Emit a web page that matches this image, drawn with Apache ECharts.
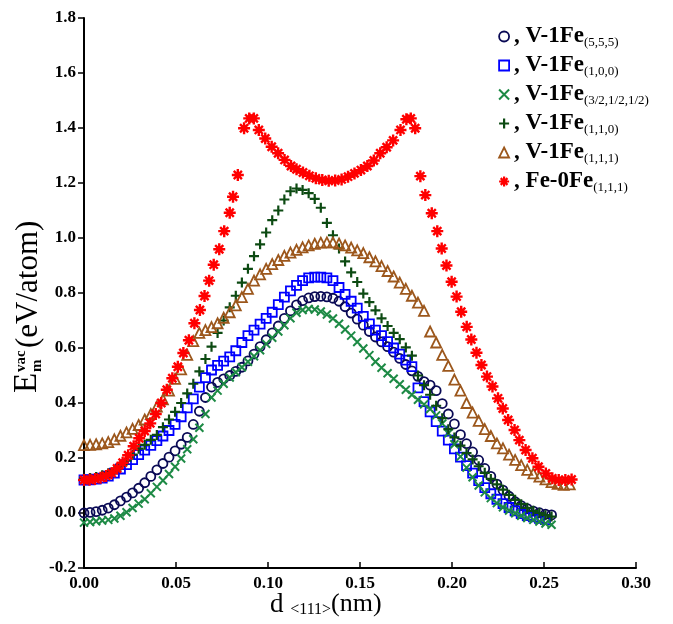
<!DOCTYPE html>
<html>
<head>
<meta charset="utf-8">
<script src="https://cdn.jsdelivr.net/npm/echarts/dist/echarts.min.js"></script>
<style>
html,body{margin:0;padding:0;background:#fff;}
#chart{width:673px;height:624px;}
</style>
</head>
<body>
<div id="chart"></div>
<script>
// ---- data ----
const seriesNames = ['V-1Fe(5,5,5)', 'V-1Fe(1,0,0)', 'V-1Fe(3/2,1/2,1/2)', 'V-1Fe(1,1,0)', 'V-1Fe(1,1,1)', 'Fe-0Fe(1,1,1)'];
const xTicks = [0.00, 0.05, 0.10, 0.15, 0.20, 0.25, 0.30];
const yTicks = [-0.2, 0.0, 0.2, 0.4, 0.6, 0.8, 1.0, 1.2, 1.4, 1.6, 1.8];

// shared reaction-coordinate grid d<111> (nm) for the V-1Fe paths
const dGrid = [0.0000,0.0033,0.0066,0.0099,0.0132,0.0165,0.0198,0.0231,0.0264,0.0297,
0.0330,0.0363,0.0396,0.0429,0.0462,0.0495,0.0528,0.0561,0.0594,0.0627,
0.0660,0.0693,0.0726,0.0759,0.0792,0.0825,0.0858,0.0891,0.0924,0.0957,
0.0990,0.1023,0.1056,0.1089,0.1122,0.1155,0.1188,0.1221,0.1254,0.1287,
0.1320,0.1353,0.1386,0.1419,0.1452,0.1485,0.1518,0.1551,0.1584,0.1617,
0.1650,0.1683,0.1716,0.1749,0.1782,0.1815,0.1848,0.1881,0.1914,0.1947,
0.1980,0.2013,0.2046,0.2079,0.2112,0.2145,0.2178,0.2211,0.2244,0.2277,
0.2310,0.2343,0.2376,0.2409,0.2442,0.2475,0.2508,0.2541,0.2574,0.2607,0.2640];

const eV555 = [0.000,0.002,0.005,0.010,0.018,0.030,0.044,0.058,0.073,0.090,
0.110,0.133,0.157,0.180,0.203,0.226,0.250,0.275,0.322,0.370,
0.420,0.458,0.475,0.488,0.500,0.515,0.530,0.553,0.578,0.605,
0.630,0.655,0.680,0.708,0.735,0.757,0.772,0.782,0.787,0.788,
0.786,0.781,0.770,0.750,0.727,0.705,0.683,0.660,0.640,0.622,
0.605,0.585,0.562,0.540,0.517,0.497,0.478,0.465,0.445,0.398,
0.360,0.324,0.285,0.252,0.222,0.192,0.162,0.133,0.105,0.083,
0.061,0.041,0.027,0.016,0.007,0.001,-0.004,-0.007];

const eV100 = [0.120,0.121,0.123,0.127,0.134,0.145,0.160,0.176,0.194,0.212,
0.229,0.246,0.263,0.280,0.300,0.322,0.350,0.382,0.415,0.458,
0.492,0.520,0.537,0.552,0.568,0.590,0.620,0.645,0.665,0.687,
0.708,0.730,0.758,0.785,0.808,0.828,0.845,0.855,0.858,0.858,
0.855,0.845,0.820,0.795,0.770,0.745,0.715,0.688,0.665,0.645,
0.623,0.600,0.578,0.556,0.532,0.455,0.405,0.368,0.332,0.298,
0.265,0.233,0.203,0.172,0.145,0.118,0.092,0.070,0.050,0.034,
0.020,0.008,-0.002,-0.009,-0.014,-0.019,-0.024];

const eV3212 = [-0.035,-0.033,-0.030,-0.027,-0.025,-0.020,-0.010,0.003,0.018,0.034,
0.050,0.072,0.095,0.118,0.142,0.168,0.198,0.232,0.268,0.310,
0.360,0.420,0.445,0.470,0.493,0.512,0.530,0.550,0.570,0.592,
0.615,0.637,0.660,0.683,0.708,0.728,0.738,0.742,0.740,0.733,
0.722,0.707,0.688,0.667,0.645,0.622,0.598,0.574,0.550,0.528,
0.508,0.488,0.468,0.448,0.430,0.412,0.395,0.378,0.355,0.325,
0.290,0.250,0.205,0.165,0.130,0.100,0.075,0.054,0.036,0.021,
0.009,-0.001,-0.010,-0.018,-0.025,-0.031,-0.038,-0.043];

const eV110 = [0.125,0.127,0.131,0.137,0.145,0.156,0.172,0.190,0.212,0.234,
0.248,0.266,0.284,0.312,0.340,0.368,0.400,0.435,0.470,0.515,
0.560,0.605,0.655,0.700,0.748,0.790,0.838,0.888,0.934,0.977,
1.020,1.065,1.100,1.140,1.170,1.180,1.175,1.163,1.142,1.110,
1.055,1.010,0.962,0.915,0.875,0.840,0.798,0.767,0.737,0.708,
0.680,0.655,0.632,0.602,0.572,0.500,0.465,0.430,0.390,0.345,
0.305,0.275,0.245,0.218,0.195,0.170,0.146,0.124,0.104,0.085,
0.066,0.048,0.032,0.019,0.008,0.000,-0.008,-0.013];

const eV111 = [0.247,0.248,0.250,0.253,0.258,0.268,0.281,0.293,0.306,0.320,
0.340,0.360,0.387,0.413,0.445,0.488,0.522,0.575,0.625,0.655,
0.665,0.676,0.690,0.710,0.730,0.755,0.785,0.815,0.845,0.868,
0.888,0.905,0.920,0.935,0.947,0.957,0.966,0.973,0.979,0.983,
0.984,0.984,0.980,0.973,0.965,0.955,0.945,0.930,0.915,0.898,
0.880,0.860,0.838,0.815,0.790,0.765,0.735,0.660,0.620,0.575,
0.535,0.485,0.445,0.400,0.365,0.335,0.305,0.280,0.253,0.235,
0.212,0.193,0.174,0.157,0.144,0.132,0.122,0.112,0.106,0.102,0.104];

// Fe-0Fe path has its own images along d<111>
const dFe = [0.000,0.003,0.006,0.009,0.012,0.015,0.018,0.021,0.024,0.027,
0.030,0.033,0.036,0.039,0.042,0.045,0.048,0.051,0.054,0.057,
0.060,0.063,0.0655,0.068,0.0705,0.0735,0.0762,0.0792,0.081,0.0836,
0.087,0.0898,0.0923,0.095,0.0985,0.102,0.1055,0.109,0.1125,0.1155,
0.119,0.1225,0.126,0.1295,0.133,0.1365,0.140,0.1435,0.147,0.1505,
0.154,0.1575,0.161,0.1645,0.168,0.172,0.1752,0.1776,0.180,0.1828,
0.1855,0.189,0.192,0.1944,0.197,0.1998,0.2025,0.205,0.208,0.2105,
0.2133,0.216,0.219,0.222,0.225,0.2276,0.2305,0.234,0.2366,0.240,
0.2437,0.247,0.251,0.2545,0.258,0.2616,0.265];
const eFe = [0.120,0.121,0.124,0.128,0.135,0.145,0.162,0.183,0.210,0.243,
0.272,0.298,0.326,0.360,0.400,0.448,0.490,0.532,0.582,0.628,
0.690,0.738,0.789,0.845,0.903,0.959,1.025,1.092,1.150,1.229,
1.399,1.435,1.435,1.393,1.362,1.332,1.308,1.284,1.262,1.250,
1.238,1.226,1.217,1.211,1.208,1.209,1.213,1.223,1.235,1.247,
1.262,1.282,1.308,1.330,1.355,1.393,1.432,1.435,1.399,1.225,
1.156,1.090,1.025,0.962,0.900,0.841,0.787,0.732,0.677,0.631,
0.583,0.538,0.496,0.460,0.417,0.380,0.338,0.302,0.265,0.229,
0.199,0.168,0.144,0.126,0.120,0.120,0.122];

// ---- styling ----
const SERIF = '"Liberation Serif", "Times New Roman", serif';
const CROSS = 'path://M0,0L10,10M10,0L0,10';
const PLUS = 'path://M5,0L5,10M0,5L10,5';
const STAR = 'path://M5,0L5,10M0,5L10,5M1.6,1.6L8.4,8.4M8.4,1.6L1.6,8.4';
const styles = [
  {symbol:'circle',   size:9,  color:'#0a0a55', bw:1.8},
  {symbol:'rect',     size:9,  color:'#0000ff', bw:1.8},
  {symbol:CROSS,      size:8,  color:'#1d8a45', bw:2.0},
  {symbol:PLUS,       size:10, color:'#0c4a12', bw:2.2},
  {symbol:'triangle', size:10, color:'#9c571c', bw:1.8},
  {symbol:STAR,       size:12, color:'#ff0000', bw:2.4}
];

function zip(xs, ys){ return ys.map((y,i)=>[xs[i], y]); }
const dataSets = [
  zip(dGrid, eV555), zip(dGrid, eV100), zip(dGrid, eV3212),
  zip(dGrid, eV110), zip(dGrid, eV111), zip(dFe, eFe)
];

const series = seriesNames.map((n,i)=>({
  type:'scatter', name:n, data:dataSets[i],
  symbol:styles[i].symbol, symbolSize:styles[i].size, symbolKeepAspect:true,
  itemStyle:{color:'rgba(0,0,0,0)', borderColor:styles[i].color, borderWidth:styles[i].bw, opacity:1},
  emphasis:{disabled:true}, silent:true, z: 2 + i
}));

const chart = echarts.init(document.getElementById('chart'), null, {renderer:'canvas'});
chart.setOption({
  animation:false,
  backgroundColor:'#ffffff',
  grid:{left:84, right:37, top:18, bottom:56, containLabel:false},
  xAxis:{
    type:'value', min:xTicks[0], max:xTicks[xTicks.length-1], interval:0.05,
    axisLine:{show:true, onZero:false, lineStyle:{color:'#000', width:2}},
    axisTick:{show:true, inside:true, length:6, lineStyle:{color:'#000', width:1.5}},
    axisLabel:{color:'#000', fontFamily:SERIF, fontWeight:'bold', fontSize:17, margin:7,
      formatter:v=>v.toFixed(2)},
    splitLine:{show:false}
  },
  yAxis:{
    type:'value', min:yTicks[0], max:yTicks[yTicks.length-1], interval:0.2,
    axisLine:{show:true, onZero:false, lineStyle:{color:'#000', width:2}},
    axisTick:{show:true, inside:false, length:6, lineStyle:{color:'#000', width:1.5}},
    axisLabel:{color:'#000', fontFamily:SERIF, fontWeight:'bold', fontSize:17, margin:8,
      formatter:v=>v.toFixed(1)},
    splitLine:{show:false}
  },
  legend:{
    orient:'vertical', left:493, top:20, itemWidth:10, itemHeight:10, itemGap:5,
    selectedMode:false,
    data: seriesNames.map((n,i)=>({name:n, icon:styles[i].symbol,
      itemStyle:{color:'rgba(0,0,0,0)', borderColor:styles[i].color, borderWidth:Math.min(styles[i].bw,2.2)}})),
    formatter: n => {
      const k = n.indexOf('(');
      return '{a|, ' + n.slice(0,k) + '}{b|' + n.slice(k) + '}';
    },
    textStyle:{
      color:'#000',
      rich:{
        a:{fontFamily:SERIF, fontWeight:'bold', fontSize:23, color:'#000'},
        b:{fontFamily:SERIF, fontSize:13, color:'#000', padding:[12,0,0,0]}
      }
    }
  },
  graphic:[
    {type:'group', x:44, y:393, rotation:Math.PI/2, silent:true, children:[
      {type:'text', x:0, y:0, style:{text:'E', fontFamily:SERIF, fontSize:33, fill:'#000', verticalAlign:'bottom'}},
      {type:'text', x:21, y:-15, style:{text:'vac', fontFamily:SERIF, fontWeight:'bold', fontSize:15, fill:'#000', verticalAlign:'bottom'}},
      {type:'text', x:21, y:1, style:{text:'m', fontFamily:SERIF, fontWeight:'bold', fontSize:15, fill:'#000', verticalAlign:'bottom'}},
      {type:'text', x:45, y:0, style:{text:'(eV/atom)', fontFamily:SERIF, fontSize:31, fill:'#000', verticalAlign:'bottom'}}
    ]},
    {type:'text', left:270, top:591, silent:true, style:{
      text:'{d|d }{s|<111>}{n|(nm)}',
      rich:{
        d:{fontFamily:SERIF, fontSize:27, fill:'#000', color:'#000'},
        s:{fontFamily:SERIF, fontSize:16, fill:'#000', color:'#000', padding:[11,0,0,0]},
        n:{fontFamily:SERIF, fontSize:26, fill:'#000', color:'#000'}
      }
    }}
  ],
  series: series
});
</script>
</body>
</html>
